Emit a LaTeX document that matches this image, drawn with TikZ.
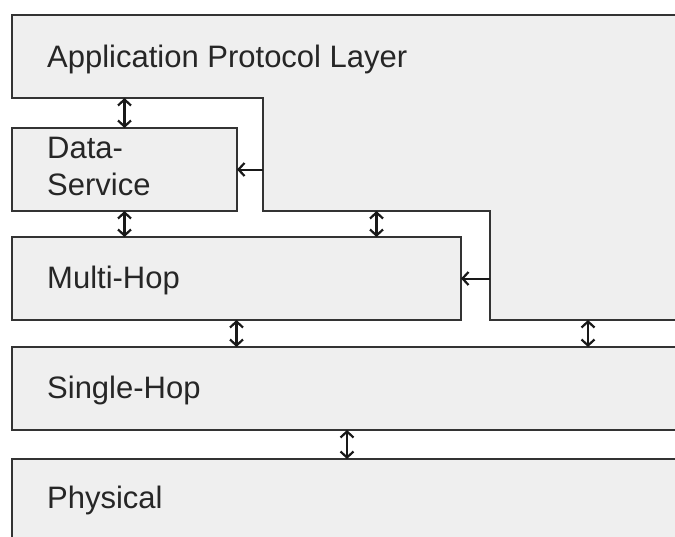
\documentclass[tikz,border=0pt]{standalone}
\usepackage{fontspec}
\setmainfont{Liberation Sans}
\usetikzlibrary{arrows.meta,calc}
\definecolor{boxfill}{HTML}{EFEFEF}
\definecolor{edge}{HTML}{333333}
\begin{document}
\begin{tikzpicture}[x=1pt,y=-1pt,
  layer/.style={draw=edge, fill=boxfill, line width=2pt, inner sep=0pt, outer sep=0pt, anchor=north west},
  lbl/.style={anchor=base west, inner sep=0pt, font=\fontsize{31}{37}\selectfont, text=black!85},
  tip/.tip={Straight Barb[length=6pt,width=13pt,line width=2.2pt]},
  biarrow/.style={draw=black!90, line width=2.2pt, tip-tip},
  onearrow/.style={draw=black!90, line width=2pt, -tip}
]
\fill[white] (0,0) rectangle (675,536);
\clip (0,0) rectangle (675,536);
% application protocol layer outline
\coordinate (a0) at (12,15);
\coordinate (a1) at (12,98);
\coordinate (a2) at (263,98);
\coordinate (a3) at (263,211);
\coordinate (a4) at (490,211);
\coordinate (a5) at (490,320);
\coordinate (a6) at (700,320);
\coordinate (a7) at (700,15);
\coordinate (m34) at ($(a3)!0.5!(a4)$);
\draw[draw=edge, fill=boxfill, line width=2pt] (a0) -- (a1) -- (a2) -- (a3) -- (a4) -- (a5) -- (a6) -- (a7) -- cycle;
% layers
\node[layer, minimum width=225pt, minimum height=83pt] (ds) at (12,128) {};
\node[layer, minimum width=449pt, minimum height=83pt] (mh) at (12,237) {};
\node[layer, minimum width=700pt, minimum height=83pt] (sh) at (12,347) {};
\node[layer, minimum width=700pt, minimum height=100pt] (ph) at (12,459) {};
% labels
\node[lbl] (tapp) at (47,67) {Application Protocol Layer};
\node[lbl] (tds1) at (47,158) {Data-};
\node[lbl] (tds2) at (47,195) {Service};
\node[lbl] (tmh) at (47,288) {Multi-Hop};
\node[lbl] (tsh) at (47,398) {Single-Hop};
\node[lbl] (tph) at (47,508) {Physical};
% connectors
\draw[biarrow] (ds.north |- a1) -- (ds.north);
\draw[biarrow] (ds.south) -- (ds.south |- mh.north);
\draw[biarrow] (m34) -- (m34 |- mh.north);
\draw[biarrow] (mh.south) -- (mh.south |- sh.north);
\draw[biarrow] ([xshift=576pt]sh.north west |- a5) -- ([xshift=576pt]sh.north west);
\draw[biarrow] ([xshift=335pt]sh.south west) -- ([xshift=335pt]sh.south west |- ph.north);
\draw[onearrow] (ds.east -| a2) -- (ds.east);
\draw[onearrow] (mh.east -| a4) -- (mh.east);
\end{tikzpicture}
\end{document}
